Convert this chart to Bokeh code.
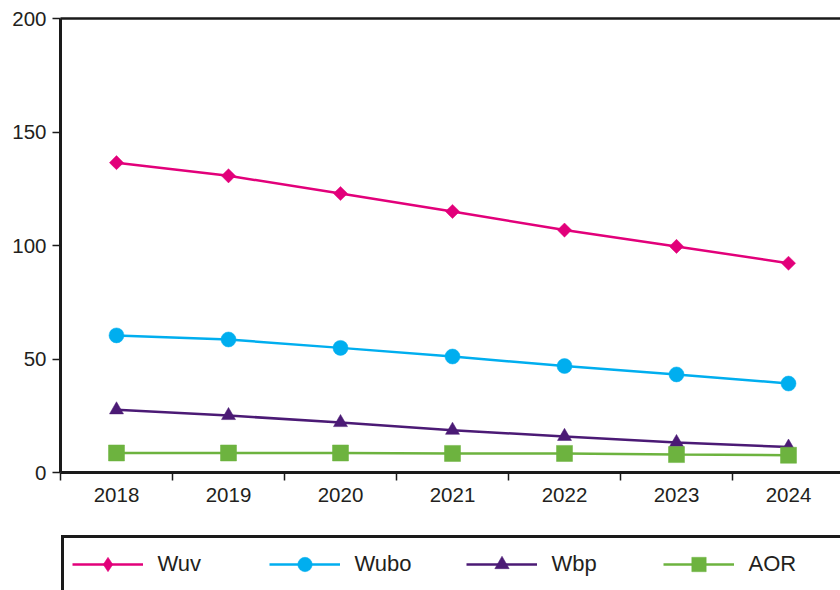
from bokeh.plotting import figure
from bokeh.models import (Range1d, FixedTicker, LinearAxis, Legend, LegendItem)
from bokeh.layouts import column
from bokeh.embed import file_html
from bokeh.resources import INLINE

years = ["2018", "2019", "2020", "2021", "2022", "2023", "2024"]
wuv = [136.5, 130.7, 122.9, 115.0, 106.8, 99.6, 92.2]
wubo = [60.4, 58.6, 54.9, 51.1, 46.9, 43.2, 39.2]
wbp = [27.6, 25.1, 22.0, 18.6, 15.9, 13.2, 11.2]
aor = [8.6, 8.6, 8.6, 8.4, 8.4, 7.9, 7.6]
y_ticks = [0, 50, 100, 150, 200]

FONT = "Liberation Sans"
TXT = "#231f20"
AX = "#1a1a1a"
xs = list(range(len(years)))

p = figure(width=840, height=531, output_backend="svg", toolbar_location=None,
           x_range=Range1d(-0.5, -0.5 + 780 / 112), y_range=Range1d(0, 200),
           min_border_left=60, min_border_right=0, min_border_top=18,
           min_border_bottom=59, x_axis_type=None, y_axis_type=None)
p.outline_line_color = None
p.background_fill_color = "white"
p.border_fill_color = "white"

# y axis
yax = LinearAxis(ticker=FixedTicker(ticks=y_ticks))
yax.axis_line_width = 3
yax.axis_line_color = AX
yax.major_tick_out = 8
yax.major_tick_in = 0
yax.major_tick_line_width = 1.5
yax.major_tick_line_color = AX
yax.minor_tick_line_color = None
yax.major_label_standoff = 6
yax.major_label_text_font = FONT
yax.major_label_text_font_size = "20.5px"
yax.major_label_text_color = TXT
p.add_layout(yax, "left")

# x axis: labels at category centres, ticks at boundaries
xax = LinearAxis(ticker=FixedTicker(ticks=xs, minor_ticks=[i - 0.5 for i in range(len(years) + 1)]))
xax.major_label_overrides = {i: y for i, y in enumerate(years)}
xax.axis_line_width = 3
xax.axis_line_color = AX
xax.major_tick_line_color = None
xax.major_tick_out = 8
xax.major_tick_in = 0
xax.minor_tick_out = 8
xax.minor_tick_in = 0
xax.minor_tick_line_width = 1.5
xax.minor_tick_line_color = AX
xax.major_label_standoff = 7
xax.major_label_text_font = FONT
xax.major_label_text_font_size = "20.5px"
xax.major_label_text_color = TXT
p.add_layout(xax, "below")

# top border
top = LinearAxis(ticker=FixedTicker(ticks=[]))
top.axis_line_width = 2.5
top.axis_line_color = AX
top.major_tick_line_color = None
top.minor_tick_line_color = None
top.major_label_text_font_size = "0px"
p.add_layout(top, "above")

p.ygrid.ticker = FixedTicker(ticks=[50, 100, 150])
p.ygrid.grid_line_color = "#333333"
p.ygrid.grid_line_width = 1
p.xgrid.grid_line_color = None

# name, values, colour, plot marker, size, angle, legend marker
series = [
    ("Wuv", wuv, "#e2007a", "square", 10, 0.785398, "diamond"),
    ("Wubo", wubo, "#00aeef", "circle", 15, 0, "circle"),
    ("Wbp", wbp, "#4b1a75", "triangle", 14, 0, "triangle"),
    ("AOR", aor, "#6db33f", "square", 16, 0, "square"),
]

# legend figure (frame = whole canvas; legend clipped at right/bottom like the reference)
lg = figure(width=840, height=59, output_backend="svg", toolbar_location=None,
            x_range=Range1d(-0.5, 6.5), y_range=Range1d(1000, 1001),
            min_border_left=0, min_border_right=0, min_border_top=0,
            min_border_bottom=0, x_axis_type=None, y_axis_type=None)
lg.outline_line_color = None
lg.xgrid.grid_line_color = None
lg.ygrid.grid_line_color = None
lg.background_fill_color = "white"
lg.border_fill_color = "white"

items = []
for name, vals, col, mk, sz, ang, lmk in series:
    p.line(xs, vals, line_color=col, line_width=2.5)
    p.scatter(xs, vals, marker=mk, size=sz, angle=ang,
              fill_color=col, line_color=col, line_width=0.5)
    lr = lg.line(xs, vals, line_color=col, line_width=2.5)
    sr = lg.scatter(xs, vals, marker=lmk, size=sz,
                    fill_color=col, line_color=col, line_width=0.5)
    items.append(LegendItem(label=name, renderers=[lr, sr]))

legend = Legend(items=items, location=(0.5, -3), orientation="horizontal",
                glyph_width=71, glyph_height=36, padding=8, spacing=0,
                label_standoff=15, label_width=111, label_height=36,
                border_line_color=AX, border_line_width=3, border_line_alpha=1.0,
                label_text_font=FONT, label_text_font_size="22px",
                label_text_color=TXT, background_fill_color="white",
                background_fill_alpha=1, margin=0)
lg.add_layout(legend, "center")

layout = column(p, lg, spacing=0)
open("out.html", "w").write(file_html(layout, INLINE))
